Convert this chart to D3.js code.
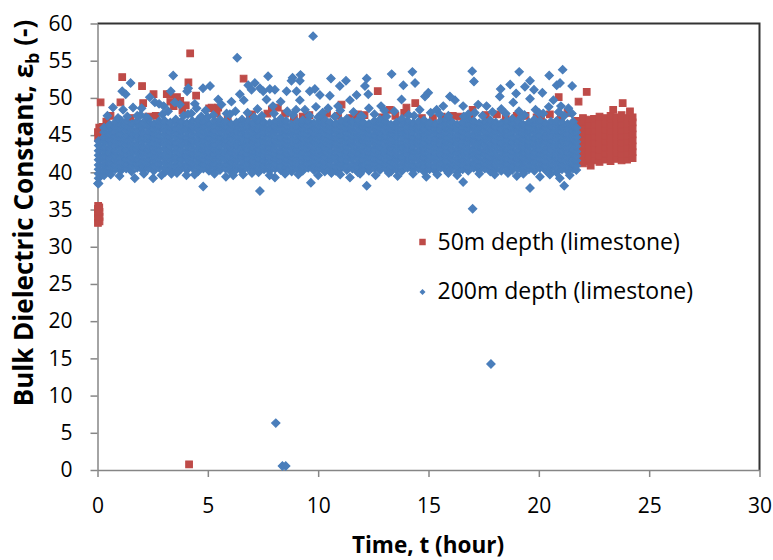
<!DOCTYPE html>
<html>
<head>
<meta charset="utf-8">
<script src="https://cdn.jsdelivr.net/npm/d3@7"></script>
<style>
  body { margin: 0; background: #fff; }
  svg { display: block; font-family: "Open Sans", sans-serif; }
</style>
</head>
<body>
<div id="chart"></div>
<script>
var xTicks = [0, 5, 10, 15, 20, 25, 30];
var yTicks = [0, 5, 10, 15, 20, 25, 30, 35, 40, 45, 50, 55, 60];

// 50m depth (limestone) -- red squares
var redStart = [[0.02,33.2],[0.02,33.9],[0.02,34.5],[0.02,35.1],[0.03,35.5],[0.09,33.4],[0.09,34.0],[0.09,34.7],[0.08,35.3],
  [0.02,45.4],[0.08,46.0],[0.03,44.6]];
var redUpper = [[0.14,49.4],[0.23,46.1],[0.59,47.6],[1.04,49.4],[1.12,52.8],[2.02,51.6],[2.07,49.3],[2.54,50.5],[2.64,47.6],
  [3.14,50.5],[3.28,50.5],[3.3,49.5],[3.45,48.9],[3.6,50.1],[3.75,49.6],[3.85,48.3],[4.0,49.0],[4.12,52.1],[4.2,56.0],
  [4.47,50.3],[5.06,48.6],[5.17,48.7],[5.47,48.7],[5.4,47.9],[6.62,52.6],[7.0,47.8],[7.9,48.4],[8.17,48.7],[8.5,47.9],
  [9.6,47.7],[10.4,47.9],[11.06,49.1],[11.8,47.8],[12.7,50.9],[13.25,48.4],[14.0,48.7],[14.4,49.3],[15.2,47.3],[16.4,47.5],
  [17.0,48.4],[18.1,47.8],[19.0,47.6],[20.1,47.5],[20.9,50.1],[21.3,48.0],[21.8,49.5],[22.17,50.8],[22.35,40.9],
  [23.37,48.4],[23.8,49.3],[24.13,48.2],
  [0.4,46.8],[1.5,47.3],[2.3,47.5],[5.9,47.4],[6.9,47.6],[7.7,47.9],[8.9,47.3],[9.3,47.5],[10.1,47.4],[10.9,47.6],
  [11.5,47.3],[12.1,47.7],[12.9,47.4],[13.5,47.6],[13.9,48.0],[14.7,47.3],[15.6,47.5],[16.1,47.6],[16.9,47.4],
  [17.6,47.7],[18.5,47.3],[19.4,47.6],[19.9,47.4],[20.5,47.8],[21.0,47.4]];
var redLow = [[4.15,0.77]];
var redBand = [
  [21.75,[41.3,42.1,42.9,43.7,44.5,45.3,46.1,46.9]],
  [22.0,[41.2,42.0,42.8,43.6,44.4,45.2,46.0,46.8,47.3]],
  [22.25,[41.5,42.3,43.1,43.9,44.7,45.5,46.3,47.1]],
  [22.5,[41.6,42.4,43.2,44.0,44.8,45.6,46.4,47.2]],
  [22.75,[41.4,42.2,43.0,43.8,44.6,45.4,46.2,47.0,47.5]],
  [23.0,[41.7,42.5,43.3,44.1,44.9,45.7,46.5,47.3]],
  [23.25,[41.5,42.3,43.1,43.9,44.7,45.5,46.3,47.1,47.6]],
  [23.5,[41.8,42.6,43.4,44.2,45.0,45.8,46.6,47.4]],
  [23.75,[41.6,42.4,43.2,44.0,44.8,45.6,46.4,47.2,47.7]],
  [24.0,[41.7,42.5,43.3,44.1,44.9,45.7,46.5,47.3]],
  [24.25,[41.9,42.7,43.5,44.3,45.1,45.9,46.7,47.4]]
];

// 200m depth (limestone) -- blue diamonds
var blueBand = [
  [0.05,[38.5,39.2,39.8,40.4,41.0,41.7,42.3,42.9,43.6,44.2]],
  [0.3,[39.6,40.3,40.9,41.5,42.2,42.8,43.4,44.1,44.7,45.4,46.0]],
  [0.55,[40.1,40.7,41.3,42.0,42.6,43.2,43.9,44.5,45.1,45.8,46.4]],
  [0.8,[40.4,41.0,41.7,42.3,42.9,43.6,44.2,44.8,45.5,46.1,46.7]],
  [1.05,[40.2,40.8,41.4,42.1,42.7,43.3,44.0,44.6,45.2,45.9,46.5,47.0]],
  [1.3,[40.5,41.1,41.8,42.4,43.0,43.7,44.3,44.9,45.6,46.2,46.8]],
  [1.55,[40.1,40.8,41.4,42.0,42.7,43.3,43.9,44.6,45.2,45.8,46.5]],
  [1.8,[40.6,41.2,41.8,42.5,43.1,43.7,44.4,45.0,45.6,46.3,46.9]],
  [2.05,[40.3,40.9,41.5,42.2,42.8,43.4,44.1,44.7,45.3,46.0,46.6]],
  [2.3,[40.5,41.1,41.7,42.4,43.0,43.6,44.3,44.9,45.5,46.2,46.8,47.2]],
  [2.55,[40.2,40.8,41.5,42.1,42.7,43.4,44.0,44.6,45.3,45.9,46.5]],
  [2.8,[40.6,41.2,41.9,42.5,43.1,43.8,44.4,45.0,45.7,46.3,46.9]],
  [3.05,[40.0,40.6,41.3,41.9,42.5,43.2,43.8,44.4,45.1,45.7,46.3,46.9]],
  [3.3,[40.4,41.0,41.7,42.3,42.9,43.6,44.2,44.8,45.5,46.1,46.7]],
  [3.55,[40.2,40.9,41.5,42.1,42.8,43.4,44.0,44.7,45.3,45.9,46.6,47.1]],
  [3.8,[40.5,41.1,41.8,42.4,43.0,43.7,44.3,44.9,45.6,46.2,46.8]],
  [4.05,[40.3,40.9,41.6,42.2,42.8,43.5,44.1,44.7,45.4,46.0,46.6]],
  [4.3,[40.6,41.2,41.9,42.5,43.1,43.8,44.4,45.0,45.7,46.3,46.9]],
  [4.55,[40.1,40.7,41.4,42.0,42.6,43.3,43.9,44.5,45.2,45.8,46.4,47.0]],
  [4.8,[40.5,41.1,41.7,42.4,43.0,43.6,44.3,44.9,45.5,46.2,46.8]],
  [5.05,[40.2,40.8,41.5,42.1,42.7,43.4,44.0,44.6,45.3,45.9,46.5]],
  [5.3,[40.6,41.2,41.8,42.5,43.1,43.7,44.4,45.0,45.6,46.3,46.9]],
  [5.55,[40.3,40.9,41.6,42.2,42.8,43.5,44.1,44.7,45.4,46.0,46.6,47.1]],
  [5.8,[40.5,41.1,41.8,42.4,43.0,43.7,44.3,44.9,45.6,46.2,46.8]],
  [6.05,[40.1,40.8,41.4,42.0,42.7,43.3,43.9,44.6,45.2,45.8,46.5]],
  [6.3,[40.4,41.0,41.7,42.3,42.9,43.6,44.2,44.8,45.5,46.1,46.7]],
  [6.55,[40.2,40.8,41.5,42.1,42.7,43.4,44.0,44.6,45.3,45.9,46.5,47.1]],
  [6.8,[40.6,41.2,41.9,42.5,43.1,43.8,44.4,45.0,45.7,46.3,46.9]],
  [7.05,[40.3,40.9,41.5,42.2,42.8,43.4,44.1,44.7,45.3,46.0,46.6]],
  [7.3,[40.0,40.6,41.2,41.9,42.5,43.1,43.8,44.4,45.0,45.7,46.3,46.9]],
  [7.55,[40.4,41.0,41.6,42.3,42.9,43.5,44.2,44.8,45.4,46.1,46.7]],
  [7.8,[40.2,40.9,41.5,42.1,42.8,43.4,44.0,44.7,45.3,45.9,46.6]],
  [8.05,[40.5,41.1,41.8,42.4,43.0,43.7,44.3,44.9,45.6,46.2,46.8]],
  [8.3,[40.3,40.9,41.6,42.2,42.8,43.5,44.1,44.7,45.4,46.0,46.6,47.2]],
  [8.55,[40.6,41.2,41.8,42.5,43.1,43.7,44.4,45.0,45.6,46.3,46.9]],
  [8.8,[40.1,40.7,41.4,42.0,42.6,43.3,43.9,44.5,45.2,45.8,46.4]],
  [9.05,[40.5,41.1,41.7,42.4,43.0,43.6,44.3,44.9,45.5,46.2,46.8]],
  [9.3,[40.2,40.8,41.5,42.1,42.7,43.4,44.0,44.6,45.3,45.9,46.5,47.0]],
  [9.55,[40.6,41.2,41.9,42.5,43.1,43.8,44.4,45.0,45.7,46.3,46.9]],
  [9.8,[40.3,40.9,41.5,42.2,42.8,43.4,44.1,44.7,45.3,46.0,46.6]],
  [10.05,[40.5,41.1,41.8,42.4,43.0,43.7,44.3,44.9,45.6,46.2,46.8]],
  [10.3,[40.1,40.8,41.4,42.0,42.7,43.3,43.9,44.6,45.2,45.8,46.5,47.1]],
  [10.55,[40.4,41.0,41.7,42.3,42.9,43.6,44.2,44.8,45.5,46.1,46.7]],
  [10.8,[40.2,40.8,41.5,42.1,42.7,43.4,44.0,44.6,45.3,45.9,46.5]],
  [11.05,[40.6,41.2,41.8,42.5,43.1,43.7,44.4,45.0,45.6,46.3,46.9]],
  [11.3,[40.3,40.9,41.6,42.2,42.8,43.5,44.1,44.7,45.4,46.0,46.6,47.2]],
  [11.55,[40.5,41.1,41.8,42.4,43.0,43.7,44.3,44.9,45.6,46.2,46.8]],
  [11.8,[40.0,40.7,41.3,41.9,42.6,43.2,43.8,44.5,45.1,45.7,46.4,47.0]],
  [12.05,[40.4,41.0,41.7,42.3,42.9,43.6,44.2,44.8,45.5,46.1,46.7]],
  [12.3,[40.2,40.8,41.4,42.1,42.7,43.3,44.0,44.6,45.2,45.9,46.5]],
  [12.55,[40.6,41.2,41.9,42.5,43.1,43.8,44.4,45.0,45.7,46.3,46.9]],
  [12.8,[40.3,40.9,41.5,42.2,42.8,43.4,44.1,44.7,45.3,46.0,46.6,47.1]],
  [13.05,[40.5,41.1,41.7,42.4,43.0,43.6,44.3,44.9,45.5,46.2,46.8]],
  [13.3,[40.1,40.7,41.4,42.0,42.6,43.3,43.9,44.5,45.2,45.8,46.4]],
  [13.55,[40.4,41.0,41.7,42.3,42.9,43.6,44.2,44.8,45.5,46.1,46.7]],
  [13.8,[40.2,40.9,41.5,42.1,42.8,43.4,44.0,44.7,45.3,45.9,46.6,47.2]],
  [14.05,[40.6,41.2,41.8,42.5,43.1,43.7,44.4,45.0,45.6,46.3,46.9]],
  [14.3,[40.3,40.9,41.6,42.2,42.8,43.5,44.1,44.7,45.4,46.0,46.6]],
  [14.55,[40.5,41.1,41.8,42.4,43.0,43.7,44.3,44.9,45.6,46.2,46.8]],
  [14.8,[40.1,40.8,41.4,42.0,42.7,43.3,43.9,44.6,45.2,45.8,46.5,47.0]],
  [15.05,[40.4,41.0,41.7,42.3,42.9,43.6,44.2,44.8,45.5,46.1,46.7]],
  [15.3,[40.2,40.8,41.5,42.1,42.7,43.4,44.0,44.6,45.3,45.9,46.5]],
  [15.55,[40.6,41.2,41.9,42.5,43.1,43.8,44.4,45.0,45.7,46.3,46.9]],
  [15.8,[40.3,40.9,41.5,42.2,42.8,43.4,44.1,44.7,45.3,46.0,46.6,47.1]],
  [16.05,[40.5,41.1,41.8,42.4,43.0,43.7,44.3,44.9,45.6,46.2,46.8]],
  [16.3,[40.0,40.7,41.3,41.9,42.6,43.2,43.8,44.5,45.1,45.7,46.4]],
  [16.55,[40.4,41.0,41.7,42.3,42.9,43.6,44.2,44.8,45.5,46.1,46.7]],
  [16.8,[40.2,40.8,41.4,42.1,42.7,43.3,44.0,44.6,45.2,45.9,46.5,47.1]],
  [17.05,[40.6,41.2,41.9,42.5,43.1,43.8,44.4,45.0,45.7,46.3,46.9]],
  [17.3,[40.3,40.9,41.6,42.2,42.8,43.5,44.1,44.7,45.4,46.0,46.6]],
  [17.55,[40.5,41.1,41.7,42.4,43.0,43.6,44.3,44.9,45.5,46.2,46.8]],
  [17.8,[40.1,40.8,41.4,42.0,42.7,43.3,43.9,44.6,45.2,45.8,46.5,47.0]],
  [18.05,[40.4,41.0,41.7,42.3,42.9,43.6,44.2,44.8,45.5,46.1,46.7]],
  [18.3,[40.2,40.9,41.5,42.1,42.8,43.4,44.0,44.7,45.3,45.9,46.6]],
  [18.55,[40.6,41.2,41.8,42.5,43.1,43.7,44.4,45.0,45.6,46.3,46.9]],
  [18.8,[40.3,40.9,41.6,42.2,42.8,43.5,44.1,44.7,45.4,46.0,46.6,47.2]],
  [19.05,[40.5,41.1,41.8,42.4,43.0,43.7,44.3,44.9,45.6,46.2,46.8]],
  [19.3,[40.1,40.7,41.4,42.0,42.6,43.3,43.9,44.5,45.2,45.8,46.4]],
  [19.55,[40.4,41.0,41.7,42.3,42.9,43.6,44.2,44.8,45.5,46.1,46.7]],
  [19.8,[40.2,40.8,41.5,42.1,42.7,43.4,44.0,44.6,45.3,45.9,46.5,47.1]],
  [20.05,[40.6,41.2,41.9,42.5,43.1,43.8,44.4,45.0,45.7,46.3,46.9]],
  [20.3,[40.3,40.9,41.5,42.2,42.8,43.4,44.1,44.7,45.3,46.0,46.6]],
  [20.55,[40.5,41.1,41.8,42.4,43.0,43.7,44.3,44.9,45.6,46.2,46.8]],
  [20.8,[40.0,40.6,41.3,41.9,42.5,43.2,43.8,44.4,45.1,45.7,46.3,46.9]],
  [21.05,[40.4,41.0,41.7,42.3,42.9,43.6,44.2,44.8,45.5,46.1,46.7]],
  [21.3,[40.2,40.8,41.4,42.1,42.7,43.3,44.0,44.6,45.2,45.9,46.5]],
  [21.55,[40.5,41.1,41.8,42.4,43.0,43.7,44.3,44.9,45.6,46.2,46.8]],
  [21.7,[40.3,40.9,41.6,42.2,42.8,43.5,44.1,44.7,45.4,46.0]]
];
var blueFuzz = [[0.45,47.6],[0.7,48.7],[0.93,47.3],[1.16,48.4],[1.35,47.5],[1.61,48.7],[1.8,47.6],[2.0,48.6],[2.2,47.4],
  [2.37,50.1],[2.6,49.4],[2.79,49.2],[2.95,47.8],[3.2,48.2],[3.5,49.4],[3.73,49.1],[3.9,47.6],[4.25,47.9],[4.41,49.2],
  [4.49,48.6],[4.7,47.5],[4.9,48.3],[5.25,47.7],[5.47,49.8],[5.62,49.1],[5.85,47.9],[6.07,49.5],[6.25,48.2],[6.45,50.5],
  [6.63,49.7],[6.8,48.0],[7.25,48.5],[7.45,47.6],[7.66,49.8],[7.95,48.9],[8.3,49.5],[8.6,48.2],[8.85,47.7],[9.17,49.7],
  [9.4,48.4],[9.6,47.6],[9.9,48.8],[10.2,48.0],[10.45,48.6],[10.75,47.5],[11.0,48.3],[11.44,49.7],[11.6,48.1],[11.95,47.6],
  [12.3,48.6],[12.55,47.8],[12.85,48.9],[13.1,47.5],[13.45,48.2],[13.78,49.8],[14.1,47.7],[14.6,48.4],[14.84,50.2],
  [15.1,48.0],[15.37,48.4],[15.67,48.9],[15.9,47.6],[16.2,49.7],[16.57,48.9],[16.8,47.8],[17.25,49.1],[17.45,47.6],
  [17.63,48.9],[17.9,48.1],[18.23,50.2],[18.5,47.9],[18.84,49.4],[19.1,48.2],[19.35,47.7],[19.6,49.9],[19.85,48.4],
  [20.2,47.9],[20.45,48.8],[20.66,49.7],[20.9,48.1],[21.15,47.6],[21.34,48.6],[21.5,47.9],
  [1.95,47.7],[3.0,48.9],[4.1,47.8],[5.0,47.4],[6.0,47.8],[7.1,47.4],[8.0,47.9],[9.0,48.4],[10.0,47.4],[10.9,48.9],
  [12.0,47.5],[13.0,48.3],[14.35,47.6],[15.5,47.8],[16.6,47.5],[17.1,48.0],[18.3,48.5],[19.2,47.4],[20.0,48.0],[21.0,48.9]];
var blueUpper = [[1.12,50.9],[1.28,50.5],[1.5,52.0],[3.32,50.9],[3.43,53.0],[4.06,50.9],[4.11,51.3],[4.78,51.3],[5.1,51.6],
  [6.33,55.4],[6.83,51.7],[6.98,51.1],[7.13,52.0],[7.36,51.3],[7.51,50.9],[7.73,52.9],[7.81,51.2],[8.04,51.1],[8.57,50.9],
  [8.79,52.3],[8.84,52.7],[9.02,50.9],[9.17,52.3],[9.2,53.1],[9.62,50.9],[9.77,58.3],[9.85,51.2],[10.08,50.4],[10.53,50.3],
  [10.58,52.6],[10.98,51.6],[11.26,52.3],[11.74,50.4],[12.12,51.6],[12.2,52.6],[12.27,50.5],[13.33,53.2],[13.86,51.7],
  [14.27,53.5],[14.39,52.0],[14.99,50.7],[15.97,50.2],[16.98,53.6],[17.06,52.2],[18.27,51.2],[18.7,51.8],[18.97,50.6],
  [19.11,53.5],[19.37,51.5],[19.6,52.3],[19.78,51.1],[20.16,50.7],[20.47,53.0],[20.81,51.7],[20.96,52.0],[21.08,53.8],
  [21.51,51.6]];
var blueLower = [[0.02,38.5],[1.69,39.2],[2.52,39.2],[3.35,39.8],[4.03,39.6],[4.79,38.1],[5.82,39.4],[6.15,39.6],[7.36,37.5],
  [8.04,39.3],[9.67,38.6],[11.44,39.3],[12.2,38.2],[14.9,39.4],[16.57,38.7],[17.0,35.1],[19.6,37.9],[20.05,39.4],[20.95,39.2],
  [21.15,38.2],[0.6,39.7],[1.0,39.5],[2.1,39.8],[2.9,39.6],[3.6,39.9],[4.4,39.7],[5.3,39.8],[6.6,39.7],[7.0,39.9],[7.8,39.6],
  [8.5,39.8],[9.1,39.7],[10.0,39.6],[10.6,39.9],[11.0,39.7],[11.9,39.8],[12.6,39.6],[13.2,39.9],[13.6,39.5],[14.3,39.8],
  [15.4,39.7],[15.9,39.9],[16.3,39.6],[17.3,39.8],[18.0,39.7],[18.6,39.9],[19.0,39.5],[19.3,39.8],[20.5,39.7],[21.4,39.6]];
var blueFar = [[8.08,6.3],[8.38,0.55],[8.53,0.55],[17.83,14.25]];

var seriesNames = ["50m depth (limestone)", "200m depth (limestone)"];
var seriesColors = ["#BE4B48", "#4A7EBB"];

function flatten(cols) {
  var out = [];
  cols.forEach(function(c) { c[1].forEach(function(v) { out.push([c[0], v]); }); });
  return out;
}

var redData = redStart.concat(flatten(redBand), redUpper, redLow);
var blueData = flatten(blueBand).concat(blueFuzz, blueUpper, blueLower, blueFar);

var width = 773, height = 560;
var margin = {top: 23.5, right: 13.5, bottom: 90, left: 97.5};

var svg = d3.select("#chart").append("svg")
    .attr("width", width)
    .attr("height", height);

var x = d3.scaleLinear().domain([0, 30]).range([margin.left, width - margin.right]);
var y = d3.scaleLinear().domain([0, 60]).range([height - margin.bottom, margin.top]);

// frame: top and right dark
svg.append("path")
    .attr("d", "M" + x(0) + "," + y(60) + "H" + x(30) + "V" + y(0))
    .attr("fill", "none")
    .attr("stroke", "#333")
    .attr("stroke-width", 2);

var xAxis = svg.append("g")
    .attr("transform", "translate(0," + y(0) + ")")
    .call(d3.axisBottom(x).tickValues(xTicks).tickSize(7).tickSizeOuter(0).tickPadding(21));

var yAxis = svg.append("g")
    .attr("transform", "translate(" + x(0) + ",0)")
    .call(d3.axisLeft(y).tickValues(yTicks).tickSize(7).tickSizeOuter(0).tickPadding(18));

[xAxis, yAxis].forEach(function(g) {
  g.select(".domain").attr("stroke", "#868686").attr("stroke-width", 1.5);
  g.selectAll(".tick line").attr("stroke", "#868686").attr("stroke-width", 1.5);
  g.selectAll(".tick text").attr("fill", "#000").style("font-size", "21px").style("font-family", "'Open Sans', sans-serif");
});

var square = d3.symbol().type(d3.symbolSquare).size(44);
var diamond = d3.symbol().type(d3.symbolSquare).size(34);

svg.append("g").selectAll("path")
    .data(redData)
  .enter().append("path")
    .attr("d", square)
    .attr("transform", function(d) { return "translate(" + x(d[0]) + "," + y(d[1]) + ")"; })
    .attr("fill", seriesColors[0])
    .attr("stroke", seriesColors[0])
    .attr("stroke-width", 1.1);

svg.append("g").selectAll("path")
    .data(blueData)
  .enter().append("path")
    .attr("d", diamond)
    .attr("transform", function(d) { return "translate(" + x(d[0]) + "," + y(d[1]) + ") rotate(45)"; })
    .attr("fill", seriesColors[1])
    .attr("stroke", seriesColors[1])
    .attr("stroke-width", 1.2);

// legend
var legend = svg.append("g").attr("transform", "translate(422.5,242)");
legend.append("path")
    .attr("d", d3.symbol().type(d3.symbolSquare).size(42))
    .attr("fill", seriesColors[0]);
legend.append("path")
    .attr("d", d3.symbol().type(d3.symbolSquare).size(18))
    .attr("transform", "translate(0,50) rotate(45)")
    .attr("fill", seriesColors[1]);
legend.selectAll("text")
    .data(seriesNames)
  .enter().append("text")
    .attr("x", 15)
    .attr("y", function(d, i) { return i * 49 + 7.5; })
    .style("font-size", "23px")
    .text(function(d) { return d; });

// axis titles
svg.append("text")
    .attr("x", 428)
    .attr("y", 553)
    .attr("text-anchor", "middle")
    .style("font-size", "22.5px")
    .style("font-weight", "bold")
    .text("Time, t (hour)");

var yTitle = svg.append("text")
    .attr("transform", "translate(33,213) rotate(-90)")
    .attr("text-anchor", "middle")
    .style("font-size", "26px")
    .style("font-weight", "bold");
yTitle.append("tspan").text("Bulk Dielectric Constant, ε");
yTitle.append("tspan").attr("dy", 6).style("font-size", "18px").text("b");
yTitle.append("tspan").attr("dy", -6).text(" (-)");
</script>
</body>
</html>
